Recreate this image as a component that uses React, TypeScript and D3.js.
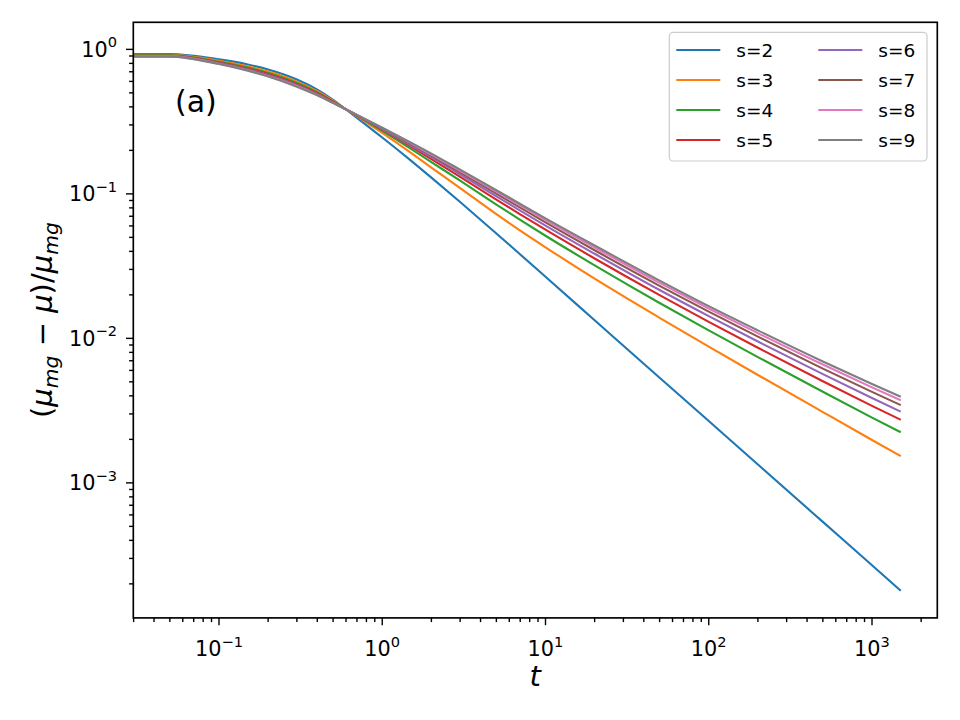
import React from 'react';
import * as d3 from 'd3';

// time samples (t = 0 is clipped to the left edge on a log axis, like matplotlib does)
const times = [0, 0.05, 0.1, 0.15, 0.2, 0.3, 0.4, 0.5, 0.6, 0.7, 1, 1.5, 2, 3, 5, 7, 10, 20, 50, 100, 200, 500, 1000, 1500];

const s2 = [1, 0.927, 0.853, 0.787, 0.726, 0.619, 0.527, 0.448, 0.384, 0.336, 0.2455, 0.1698, 0.1295, 0.0878, 0.0532, 0.0381, 0.0267, 0.01335, 0.00534, 0.00268, 0.00134, 0.000537, 0.000269, 0.000179];
const s3 = [1, 0.916, 0.834, 0.763, 0.702, 0.598, 0.513, 0.441, 0.384, 0.344, 0.264, 0.192, 0.152, 0.1096, 0.0724, 0.0557, 0.0427, 0.02588, 0.01387, 0.00877, 0.00558, 0.00309, 0.00198, 0.00153];
const s4 = [1, 0.909, 0.821, 0.748, 0.686, 0.585, 0.504, 0.436, 0.384, 0.347, 0.273, 0.205, 0.166, 0.1233, 0.0843, 0.066, 0.0513, 0.032, 0.01757, 0.01136, 0.00742, 0.00427, 0.00283, 0.00224];
const s5 = [1, 0.904, 0.812, 0.737, 0.675, 0.575, 0.497, 0.433, 0.384, 0.349, 0.278, 0.212, 0.174, 0.1311, 0.0913, 0.0721, 0.0565, 0.0357, 0.0199, 0.013, 0.00861, 0.00505, 0.00341, 0.00273];
const s6 = [1, 0.9, 0.805, 0.729, 0.666, 0.568, 0.491, 0.43, 0.384, 0.35, 0.281, 0.216, 0.18, 0.1365, 0.0963, 0.0766, 0.0603, 0.0385, 0.0216, 0.01425, 0.00951, 0.00566, 0.00387, 0.00311];
const s7 = [1, 0.897, 0.8, 0.722, 0.66, 0.562, 0.488, 0.428, 0.384, 0.351, 0.284, 0.221, 0.184, 0.141, 0.1004, 0.0802, 0.0634, 0.0407, 0.0231, 0.0153, 0.01028, 0.00618, 0.00426, 0.00345];
const s8 = [1, 0.894, 0.795, 0.716, 0.654, 0.557, 0.484, 0.426, 0.384, 0.352, 0.286, 0.224, 0.187, 0.1443, 0.1035, 0.083, 0.0658, 0.0425, 0.0242, 0.0161, 0.01088, 0.00659, 0.00458, 0.00373];
const s9 = [1, 0.891, 0.791, 0.711, 0.649, 0.552, 0.481, 0.425, 0.384, 0.352, 0.287, 0.226, 0.19, 0.147, 0.106, 0.0851, 0.0676, 0.0439, 0.0251, 0.0167, 0.01135, 0.00692, 0.00483, 0.00394];

const seriesNames = ['s=2', 's=3', 's=4', 's=5', 's=6', 's=7', 's=8', 's=9'];
const seriesValues = [s2, s3, s4, s5, s6, s7, s8, s9];

const xMajorExps = [-1, 0, 1, 2, 3];
const yMajorExps = [0, -1, -2, -3];

const W = 960;
const H = 720;
const margin = { top: 22.3, right: 22.7, bottom: 102.1, left: 133.3 };
const FONT = '"DejaVu Sans", sans-serif';

// matplotlib style autoscale: 5% padding in log space
function logPad(lo: number, hi: number): [number, number] {
  const a = Math.log10(lo), b = Math.log10(hi);
  const m = (b - a) * 0.05;
  return [Math.pow(10, a - m), Math.pow(10, b + m)];
}

function minorTicks(domain: number[]) {
  const out: number[] = [];
  for (let d = -5; d <= 4; d++) {
    for (let k = 2; k <= 9; k++) {
      const v = k * Math.pow(10, d);
      if (v >= domain[0] && v <= domain[1]) out.push(v);
    }
  }
  return out;
}

const Pow10 = ({ e, ...rest }: any) => (
  <text {...rest}>
    10
    <tspan dy={-9.5} fontSize={14.6}>{e < 0 ? '\u2212' + Math.abs(e) : String(e)}</tspan>
  </text>
);

export default function App() {
  const innerW = W - margin.left - margin.right;
  const innerH = H - margin.top - margin.bottom;
  const x0 = margin.left, x1 = W - margin.right;
  const y0 = margin.top, y1 = H - margin.bottom;

  const positiveTimes = times.filter(t => t > 0);
  const xDomain = logPad(d3.min(positiveTimes)!, d3.max(positiveTimes)!);
  const allVals = seriesValues.flat();
  const yDomain = logPad(d3.min(allVals)!, d3.max(allVals)!);

  const x = d3.scaleLog().domain(xDomain).range([x0, x1]);
  const y = d3.scaleLog().domain(yDomain).range([y1, y0]);

  const line = d3
    .line<number>()
    .x((_, i) => x(times[i] > 0 ? times[i] : 1e-300))
    .y(v => y(v))
    .curve(d3.curveMonotoneX);

  const colors = d3.schemeCategory10;
  const xMinor = minorTicks(xDomain);
  const yMinor = minorTicks(yDomain);
  const tickW = 1.4;

  // legend layout
  const lg = { x: 669.3, y: 32.3, w: 257.7, h: 128.7, row: 30, col: 142, handle: 44 };

  return (
    <svg width={W} height={H} style={{ position: 'absolute', left: 0, top: 0, background: '#fff' }} fontFamily={FONT}>
      <defs>
        <clipPath id="plot-clip">
          <rect x={x0} y={y0} width={innerW} height={innerH} />
        </clipPath>
      </defs>
      <rect x={0} y={0} width={W} height={H} fill="#fff" />

      <g clipPath="url(#plot-clip)">
        {seriesValues.map((vals, i) => (
          <path key={i} d={line(vals) || ''} fill="none" stroke={colors[i]} strokeWidth={2.1} strokeLinejoin="round" />
        ))}
      </g>

      {/* ticks */}
      <g stroke="#000" strokeWidth={tickW}>
        {xMinor.map(v => <line key={'xm' + v} x1={x(v)} x2={x(v)} y1={y1} y2={y1 + 4.2} />)}
        {xMajorExps.map(e => <line key={'xM' + e} x1={x(Math.pow(10, e))} x2={x(Math.pow(10, e))} y1={y1} y2={y1 + 7.3} />)}
        {yMinor.map(v => <line key={'ym' + v} x1={x0} x2={x0 - 4.2} y1={y(v)} y2={y(v)} />)}
        {yMajorExps.map(e => <line key={'yM' + e} x1={x0} x2={x0 - 7.3} y1={y(Math.pow(10, e))} y2={y(Math.pow(10, e))} />)}
      </g>
      {xMajorExps.map(e => (
        <Pow10 key={'xl' + e} e={e} x={x(Math.pow(10, e))} y={656} textAnchor="middle" fontSize={20.8} fill="#000" />
      ))}
      {yMajorExps.map(e => (
        <Pow10 key={'yl' + e} e={e} x={117} y={y(Math.pow(10, e)) + 7.4} textAnchor="end" fontSize={20.8} fill="#000" />
      ))}

      {/* frame */}
      <rect x={x0} y={y0} width={innerW} height={innerH} fill="none" stroke="#000" strokeWidth={1.67} />

      {/* axis labels */}
      <text x={(x0 + x1) / 2} y={686} textAnchor="middle" fontSize={29} fontStyle="italic">t</text>
      <text transform={`translate(52, ${(y0 + y1) / 2}) rotate(-90)`} textAnchor="middle" fontSize={29}>
        <tspan>(</tspan>
        <tspan fontStyle="italic">μ</tspan>
        <tspan fontStyle="italic" fontSize={20.3} dy={6}>mg</tspan>
        <tspan dy={-6}>{' \u2212 '}</tspan>
        <tspan fontStyle="italic">μ</tspan>
        <tspan>)/</tspan>
        <tspan fontStyle="italic">μ</tspan>
        <tspan fontStyle="italic" fontSize={20.3} dy={6}>mg</tspan>
      </text>

      <text x={175} y={112} fontSize={30}>(a)</text>

      {/* legend */}
      <rect x={lg.x} y={lg.y} width={lg.w} height={lg.h} rx={4} fill="#fff" fillOpacity={0.8} stroke="#cccccc" strokeWidth={1.2} />
      {seriesNames.map((name, i) => {
        const col = Math.floor(i / 4);
        const row = i % 4;
        const hx = lg.x + 7 + col * lg.col;
        const cy = lg.y + 17.7 + row * lg.row;
        return (
          <g key={name}>
            <line x1={hx} x2={hx + lg.handle} y1={cy} y2={cy} stroke={colors[i]} strokeWidth={2.1} />
            <text x={hx + lg.handle + 16} y={cy + 6.5} fontSize={18.5} fill="#000">{name}</text>
          </g>
        );
      })}
    </svg>
  );
}
